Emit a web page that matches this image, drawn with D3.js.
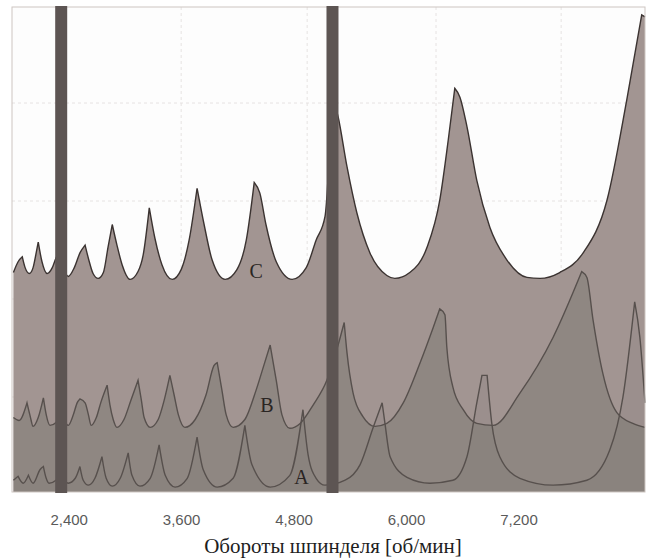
<!DOCTYPE html>
<html>
<head>
<meta charset="utf-8">
<script src="https://cdn.jsdelivr.net/npm/d3@7"></script>
<style>
  body { margin: 0; background: #fff; }
</style>
</head>
<body>
<div id="chart"></div>
<script>
// stability lobes: spindle speed [rpm] vs limiting depth [mm]
var curveA = [
  [1805,0.15],[1855,0.19],[1910,0.12],[1965,0.20],[2015,0.12],[2090,0.26],[2125,0.29],[2155,0.17],
  [2185,0.12],[2260,0.15],[2315,0.23],[2345,0.15],[2390,0.12],[2465,0.17],[2515,0.29],[2550,0.15],
  [2605,0.10],[2675,0.17],[2750,0.39],[2795,0.17],[2860,0.09],[2945,0.17],[3030,0.43],[3070,0.20],
  [3155,0.09],[3265,0.17],[3360,0.51],[3425,0.20],[3530,0.08],[3660,0.17],[3765,0.59],[3830,0.26],
  [3980,0.08],[4150,0.17],[4275,0.71],[4350,0.31],[4545,0.08],[4755,0.20],[4895,0.87],[4950,0.41],
  [5035,0.17],[5130,0.10],[5345,0.15],[5505,0.31],[5645,0.69],[5740,0.94],[5770,0.73],[5825,0.39],
  [6005,0.18],[6250,0.12],[6495,0.15],[6645,0.39],[6750,0.94],[6805,1.22],[6860,1.22],[6910,0.73],
  [6995,0.39],[7210,0.17],[7565,0.10],[7925,0.15],[8170,0.46],[8310,1.00],[8435,1.97],[8490,1.61],
  [8545,0.94]
];
var curveB = [
  [1805,0.79],[1865,0.76],[1950,0.94],[1985,0.80],[2015,0.70],[2070,0.79],[2125,0.99],[2155,0.82],
  [2195,0.71],[2260,0.74],[2315,0.85],[2345,0.77],[2390,0.71],[2445,0.82],[2485,0.94],[2515,0.98],
  [2570,0.94],[2605,0.82],[2635,0.71],[2690,0.79],[2740,0.95],[2805,1.12],[2835,0.92],[2870,0.77],
  [2910,0.69],[2985,0.77],[3060,0.97],[3135,1.17],[3170,0.97],[3200,0.79],[3265,0.69],[3350,0.77],
  [3415,0.97],[3475,1.22],[3520,1.02],[3565,0.82],[3635,0.69],[3745,0.77],[3860,1.02],[3945,1.32],
  [3980,1.35],[4030,1.07],[4075,0.82],[4150,0.69],[4275,0.77],[4395,1.07],[4480,1.33],[4545,1.53],
  [4610,1.17],[4670,0.82],[4755,0.68],[4865,0.73],[5005,0.92],[5150,1.17],[5270,1.53],[5335,1.76],
  [5365,1.45],[5430,1.04],[5535,0.80],[5665,0.70],[5790,0.73],[5965,0.94],[6145,1.35],[6285,1.71],
  [6355,1.90],[6410,1.84],[6430,1.51],[6495,1.10],[6605,0.87],[6750,0.73],[6925,0.71],[7210,1.04],
  [7565,1.61],[7870,2.28],[7925,2.22],[7990,1.79],[8095,1.24],[8245,0.84],[8415,0.73],[8545,0.69]
];
var curveC = [
  [1805,2.27],[1855,2.38],[1900,2.43],[1930,2.32],[1975,2.26],[2015,2.32],[2050,2.48],[2070,2.58],
  [2110,2.38],[2165,2.26],[2220,2.32],[2260,2.42],[2305,2.48],[2335,2.35],[2390,2.23],[2455,2.32],
  [2515,2.47],[2570,2.55],[2615,2.38],[2655,2.26],[2710,2.21],[2765,2.27],[2815,2.53],[2860,2.76],
  [2910,2.55],[2965,2.35],[3050,2.20],[3135,2.28],[3190,2.45],[3255,2.93],[3315,2.62],[3390,2.35],
  [3500,2.20],[3595,2.30],[3680,2.60],[3765,3.13],[3840,2.76],[3925,2.40],[4065,2.20],[4190,2.30],
  [4290,2.60],[4375,3.19],[4435,3.08],[4500,2.76],[4610,2.38],[4780,2.20],[4930,2.32],[5035,2.60],
  [5130,2.84],[5205,4.08],[5270,3.86],[5365,3.35],[5470,2.88],[5610,2.47],[5790,2.24],[5875,2.21],
  [6035,2.27],[6220,2.53],[6355,3.01],[6445,3.62],[6515,4.15],[6570,4.06],[6645,3.76],[6750,3.21],
  [6890,2.73],[7070,2.40],[7285,2.22],[7425,2.21],[7635,2.27],[7885,2.47],[8140,3.01],[8350,4.03],
  [8510,4.90],[8545,4.88]
];
var curveLabels = ["A", "B", "C"];
var labelPos = [[4880,0.11],[4510,0.85],[4395,2.21]];
var markerRpm = [2315, 5210];
var tickRpm = [2400, 3600, 4800, 6000, 7200];
var gridRpm = [3595, 4940, 6315, 7650];
var gridDepth = [1, 2, 3, 4];
var xTitle = "Обороты шпинделя [об/мин]";

var W = 647, H = 558;
var margin = {top: 7, right: 2, bottom: 66, left: 12},
  width = W - margin.left - margin.right,
  height = H - margin.top - margin.bottom;

var svg = d3.select("#chart").append("svg")
  .attr("width", W).attr("height", H)
  .append("g")
  .attr("transform", "translate(" + margin.left + "," + margin.top + ")");

var x = d3.scaleLinear().domain([1790, 8545]).range([0, width]);
var y = d3.scaleLinear().domain([0.03, 4.98]).range([height, 0]);

svg.append("rect").attr("width", width).attr("height", height).attr("fill", "#fdfdfd");

// faint dashed grid
svg.append("g").selectAll("line").data(gridRpm).enter().append("line")
  .attr("x1", function(d){ return x(d); }).attr("x2", function(d){ return x(d); })
  .attr("y1", 0).attr("y2", height)
  .attr("stroke", "#e6e3e2").attr("stroke-dasharray", "3,3");
svg.append("g").selectAll("line").data(gridDepth).enter().append("line")
  .attr("y1", function(d){ return y(d); }).attr("y2", function(d){ return y(d); })
  .attr("x1", 0).attr("x2", width)
  .attr("stroke", "#e6e3e2").attr("stroke-dasharray", "3,3");

// split at cusps (local maxima) so every lobe is smooth but the peaks stay sharp
function lobePath(pts) {
  var gen = d3.line().x(function(d){ return x(d[0]); }).y(function(d){ return y(d[1]); })
    .curve(d3.curveMonotoneX);
  var lobes = [], cur = [pts[0]];
  for (var i = 1; i < pts.length; i++) {
    cur.push(pts[i]);
    if (i < pts.length - 1) {
      var a = pts[i-1][1], b = pts[i][1], c = pts[i+1][1];
      if ((b >= a && b > c) || (b > a && b >= c)) { lobes.push(cur); cur = [pts[i]]; }
    }
  }
  lobes.push(cur);
  var p = "";
  lobes.forEach(function(l, k) {
    var s = gen(l);
    p += k === 0 ? s : s.replace(/^M[^A-Za-z]*/, "");
  });
  return p;
}
function areaPath(pts) {
  return lobePath(pts) + "L" + x(pts[pts.length-1][0]) + "," + height + "L" + x(pts[0][0]) + "," + height + "Z";
}

var series = [
  {d: curveC, fill: "#a29592", stroke: "#3b3331", w: 1.4},
  {d: curveB, fill: "rgba(98,104,94,0.30)", stroke: "#57504d", w: 1.4},
  {d: curveA, fill: "rgba(98,100,94,0.10)", stroke: "#57504d", w: 1.4}
];
series.forEach(function(s) {
  svg.append("path").attr("d", areaPath(s.d)).attr("fill", s.fill);
});
series.forEach(function(s) {
  svg.append("path").attr("d", lobePath(s.d)).attr("fill", "none")
    .attr("stroke", s.stroke).attr("stroke-width", s.w).attr("stroke-linejoin", "miter");
});

// frame
svg.append("rect").attr("width", width).attr("height", height)
  .attr("fill", "none").attr("stroke", "#cdc5c1");

// vertical marker bars
svg.append("g").selectAll("rect").data(markerRpm).enter().append("rect")
  .attr("x", function(d){ return x(d) - 6; }).attr("width", 12)
  .attr("y", -1).attr("height", height + 2)
  .attr("fill", "#5d5553");

// curve labels
svg.append("g").selectAll("text").data(curveLabels).enter().append("text")
  .attr("x", function(d, i){ return x(labelPos[i][0]); })
  .attr("y", function(d, i){ return y(labelPos[i][1]); })
  .attr("text-anchor", "middle")
  .style("font-family", "'Liberation Serif', 'DejaVu Serif', serif")
  .style("font-size", "20px").attr("fill", "#2a2523")
  .text(function(d){ return d; });

// x tick labels
svg.append("g").selectAll("text").data(tickRpm).enter().append("text")
  .attr("x", function(d){ return x(d); }).attr("y", height + 33)
  .attr("text-anchor", "middle")
  .style("font-family", "'Liberation Sans Narrow', 'Liberation Sans', sans-serif")
  .style("font-size", "15px").attr("fill", "#5a5a5a")
  .text(d3.format(","));

svg.append("text")
  .attr("x", 321).attr("y", height + 61)
  .attr("text-anchor", "middle")
  .style("font-family", "'Liberation Serif', 'DejaVu Serif', serif")
  .style("font-size", "21px").attr("fill", "#1e1e1e")
  .text(xTitle);
</script>
</body>
</html>
